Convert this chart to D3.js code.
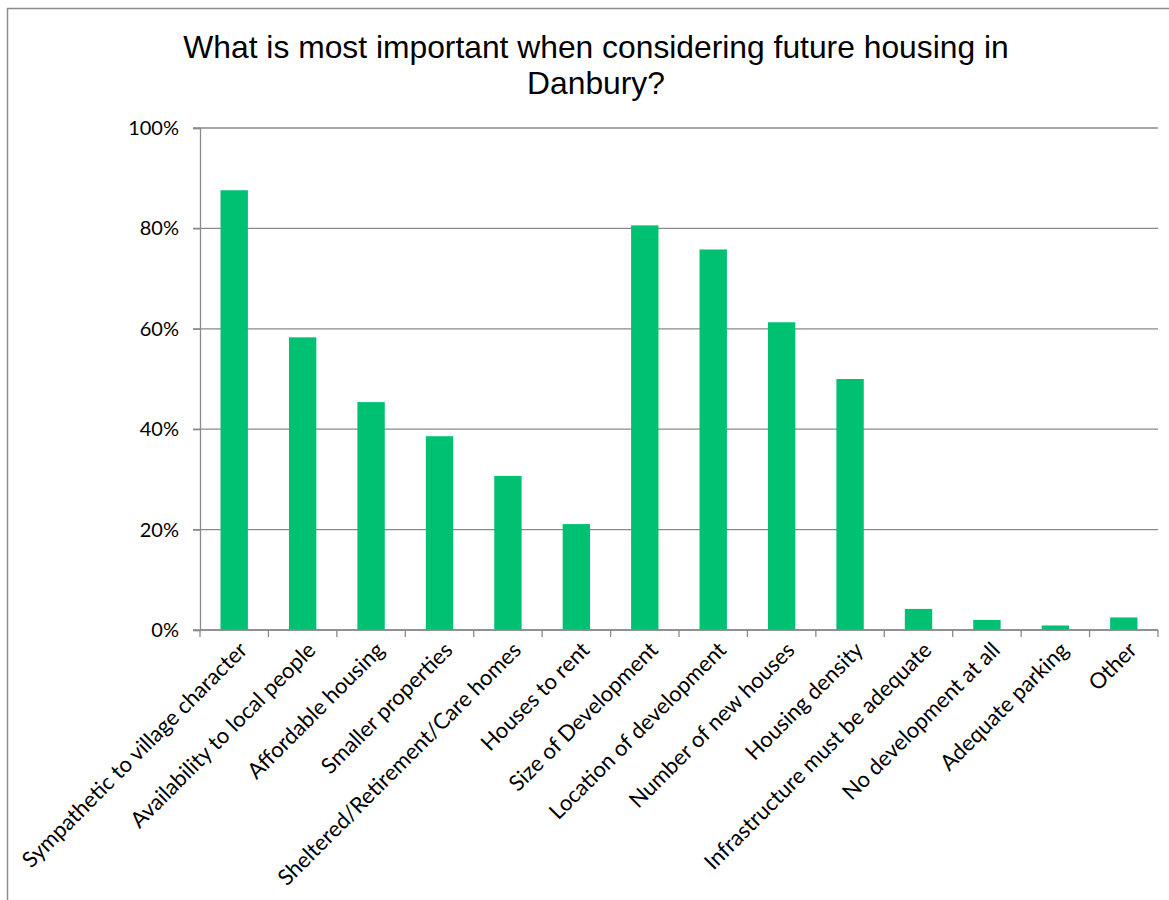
<!DOCTYPE html>
<html>
<head>
<meta charset="utf-8">
<script src="https://cdn.jsdelivr.net/npm/d3@7"></script>
<style>
body { margin: 0; background: #fff; }
</style>
</head>
<body>
<div id="chartdiv"></div>
<script>
// survey categories and share of respondents
var categories = [
  "Sympathetic to village character",
  "Availability to local people",
  "Affordable housing",
  "Smaller properties",
  "Sheltered/Retirement/Care homes",
  "Houses to rent",
  "Size of Development",
  "Location of development",
  "Number of new houses",
  "Housing density",
  "Infrastructure must be adequate",
  "No development at all",
  "Adequate parking",
  "Other"
];
var values = [0.876, 0.583, 0.454, 0.386, 0.307, 0.211, 0.806, 0.758, 0.613, 0.500, 0.042, 0.020, 0.009, 0.025];
var yTicks = [0, 0.2, 0.4, 0.6, 0.8, 1.0];
var titleLines = ["What is most important when considering future housing in", "Danbury?"];

var data = categories.map(function(c, i) { return {cat: c, val: values[i]}; });

var corewidth = 1169, coreheight = 900;
var margin = {top: 128, right: 11, bottom: 270, left: 200},
    width = corewidth - margin.left - margin.right,
    height = coreheight - margin.top - margin.bottom;

var svg = d3.select('#chartdiv')
  .append('svg')
  .attr('width', corewidth)
  .attr('height', coreheight)
  .style('display', 'block');

// chart frame (clipped by the page edge on right/bottom)
svg.append('rect')
  .attr('x', 7.5).attr('y', 8.5)
  .attr('width', 1300).attr('height', 1000)
  .attr('fill', 'none')
  .attr('stroke', '#8c8c8c')
  .attr('stroke-width', 1.5);

svg.append('text')
  .attr('x', 596)
  .attr('y', 58)
  .attr('text-anchor', 'middle')
  .style('font-family', '"Liberation Sans", Arial, sans-serif')
  .style('font-size', '31.8px')
  .style('fill', '#000')
  .selectAll('tspan')
  .data(titleLines)
  .enter().append('tspan')
  .attr('x', 596)
  .attr('dy', function(d, i) { return i ? 36 : 0; })
  .text(function(d) { return d; });

var g = svg.append('g')
  .attr('transform', 'translate(' + margin.left + ',' + margin.top + ')');

var xScale = d3.scaleBand().domain(categories).range([0, width]).paddingInner(0.6).paddingOuter(0.3);
var yScale = d3.scaleLinear().domain([0, 1]).range([height, 0]);

// gridlines
g.append('g')
  .selectAll('line')
  .data(yTicks)
  .enter().append('line')
  .attr('x1', -7).attr('x2', width)
  .attr('y1', function(d) { return yScale(d); })
  .attr('y2', function(d) { return yScale(d); })
  .attr('stroke', '#8a8a8a')
  .attr('stroke-width', 1.3);

// y axis
var yAxis = g.append('g')
  .call(d3.axisLeft(yScale).tickValues(yTicks).tickFormat(d3.format('.0%')).tickSize(7).tickPadding(14));
yAxis.select('.domain').attr('stroke', '#8a8a8a').attr('stroke-width', 1.3);
yAxis.selectAll('.tick line').attr('stroke', '#8a8a8a').attr('stroke-width', 1.3);
yAxis.selectAll('text')
  .style('font-family', 'Lato, "Open Sans", sans-serif')
  .style('font-size', '20px')
  .style('fill', '#000');

// bars
g.selectAll('.bar')
  .data(data)
  .enter().append('rect')
  .attr('class', 'bar')
  .attr('x', function(d) { return xScale(d.cat); })
  .attr('width', xScale.bandwidth())
  .attr('y', function(d) { return yScale(d.val); })
  .attr('height', function(d) { return height - yScale(d.val); })
  .attr('fill', '#00c171');

// x axis with ticks between categories
var boundaries = d3.range(categories.length + 1);
var xAxis = g.append('g').attr('transform', 'translate(0,' + height + ')');
xAxis.append('line')
  .attr('x1', 0).attr('x2', width)
  .attr('stroke', '#8a8a8a').attr('stroke-width', 1.3);
xAxis.selectAll('.xt')
  .data(boundaries)
  .enter().append('line')
  .attr('class', 'xt')
  .attr('x1', function(d) { return d * width / categories.length; })
  .attr('x2', function(d) { return d * width / categories.length; })
  .attr('y1', 0).attr('y2', 7)
  .attr('stroke', '#8a8a8a').attr('stroke-width', 1.3);

xAxis.selectAll('.xl')
  .data(categories)
  .enter().append('text')
  .attr('class', 'xl')
  .attr('transform', function(d) {
    var cx = xScale(d) + xScale.bandwidth() / 2 + 9;
    return 'translate(' + cx + ',16) rotate(-45)';
  })
  .attr('text-anchor', 'end')
  .attr('dy', '0.35em')
  .style('font-family', 'Lato, "Open Sans", sans-serif')
  .style('font-size', '22px')
  .style('fill', '#000')
  .text(function(d) { return d; });
</script>
</body>
</html>
